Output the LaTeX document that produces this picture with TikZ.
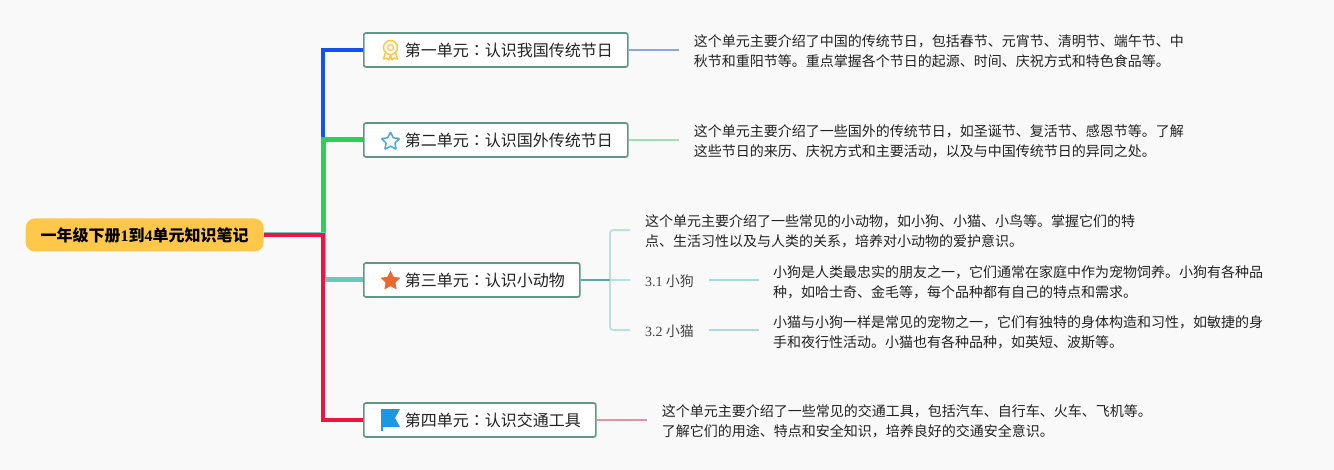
\documentclass[tikz,border=0pt]{standalone}
\usepackage{fontspec}
\usepackage{xcolor}
\usetikzlibrary{shapes.geometric, positioning}
\setmainfont{Noto Sans CJK SC}
\newfontfamily\cjkcolon{Noto Sans CJK TC}
\newfontfamily\numfont{Liberation Serif}
\newcommand{\ucolon}{{\cjkcolon ：}}
\definecolor{cBack}{RGB}{249,249,250}
\definecolor{cRoot}{RGB}{255,200,74}
\definecolor{cEdge}{RGB}{98,150,135}
\definecolor{cInk}{RGB}{34,34,34}
\definecolor{cBlue}{RGB}{24,78,246}
\definecolor{cGreen}{RGB}{44,208,84}
\definecolor{cTeal}{RGB}{106,200,182}
\definecolor{cRed}{RGB}{236,20,64}
\definecolor{cLeafBlue}{RGB}{140,166,220}
\definecolor{cLeafGreen}{RGB}{160,221,176}
\definecolor{cLeafRed}{RGB}{232,143,165}
\definecolor{cStarLine}{RGB}{74,168,220}
\definecolor{cStarFill}{RGB}{232,104,48}
\definecolor{cFlag}{RGB}{26,152,224}
\tikzset{
	rootbox/.style ={rectangle, rounded corners=9pt, fill=cRoot, inner xsep=15pt, minimum height=33pt, font=\fontsize{16pt}{20pt}\selectfont\bfseries, text=black},
	unitbox/.style ={rectangle, rounded corners=2pt, draw=cEdge, line width=1.6pt, fill=white, inner xsep=15pt, minimum height=34pt, font=\fontsize{16pt}{20pt}\selectfont, text=cInk},
	note/.style    ={inner sep=0pt, align=left, font=\fontsize{14pt}{20.3pt}\selectfont, text=cInk},
	sublabel/.style={inner sep=0pt, font=\fontsize{14pt}{20pt}\selectfont, text=cInk!85},
	trunk/.style   ={line width=4.5pt},
	leaf/.style    ={line width=1.8pt},
	iconstar/.style={star, star points=5, star point ratio=2.05, minimum size=21pt, inner sep=0pt, rounded corners=0.6pt},
}
\begin{document}
\begin{tikzpicture}[x=1pt, y=-1pt]
	\useasboundingbox[fill=cBack] (0,0) rectangle (1334,470);
	\node[rootbox, anchor=west] (root) at (25.5,235) {\raisebox{-1pt}{一年级下册{\numfont 1}到{\numfont 4}单元知识笔记}};
	\coordinate (fork) at (323,235);
	\node[unitbox, anchor=west] (u1) at (363,50) {\hspace*{26pt}\raisebox{-1pt}{第一单元\ucolon 认识我国传统节日}};
	\node[unitbox, anchor=west] (u2) at (363,140) {\hspace*{26pt}\raisebox{-1pt}{第二单元\ucolon 认识国外传统节日}};
	\node[unitbox, anchor=west] (u3) at (363,280) {\hspace*{26pt}\raisebox{-1pt}{第三单元\ucolon 认识小动物}};
	\node[unitbox, anchor=west] (u4) at (363,420) {\hspace*{26pt}\raisebox{-1pt}{第四单元\ucolon 认识交通工具}};
	% main branches
	\draw[trunk, cBlue] (root.east) -- (fork) |- (u1.west);
	\draw[trunk, cGreen, line width=5pt] (root.east) -- (fork) |- (u2.west);
	\draw[trunk, cTeal, line width=5pt] (root.east) -- (fork) |- (u3.west);
	\draw[trunk, cRed, line width=4pt] (root.east) -- (fork) |- (u4.west);
	% unit 1, 2, 4 notes
	\coordinate[right=50pt of u1.east] (e1);
	\coordinate[right=50pt of u2.east] (e2);
	\coordinate[right=50pt of u4.east] (e4);
	\node[note, right=15pt of e1, yshift=-1.5pt] (n1) {这个单元主要介绍了中国的传统节日，包括春节、元宵节、清明节、端午节、中\\秋节和重阳节等。重点掌握各个节日的起源、时间、庆祝方式和特色食品等。};
	\node[note, right=15pt of e2, yshift=-1.5pt] (n2) {这个单元主要介绍了一些国外的传统节日，如圣诞节、复活节、感恩节等。了解\\这些节日的来历、庆祝方式和主要活动，以及与中国传统节日的异同之处。};
	\node[note, right=15pt of e4, yshift=-1.5pt] (n4) {这个单元主要介绍了一些常见的交通工具，包括汽车、自行车、火车、飞机等。\\了解它们的用途、特点和安全知识，培养良好的交通安全意识。};
	\draw[leaf, cLeafBlue] (u1.east) -- (e1);
	\draw[leaf, cLeafGreen] (u2.east) -- (e2);
	\draw[leaf, cLeafRed] (u4.east) -- (e4);
	% unit 3 children
	\coordinate (bk) at (610,280);
	\coordinate (b0) at (630,230);
	\coordinate (b1) at (630,280);
	\coordinate (b2) at (630,330);
	\node[note, anchor=west] (n3) at (645,231) {这个单元主要介绍了一些常见的小动物，如小狗、小猫、小鸟等。掌握它们的特\\点、生活习性以及与人类的关系，培养对小动物的爱护意识。};
	\node[sublabel, anchor=west] (s1) at (645,281.5) {{\numfont 3.1} 小狗};
	\node[sublabel, anchor=west] (s2) at (645,331.5) {{\numfont 3.2} 小猫};
	\coordinate (s1a) at (709,280);
	\coordinate (s1b) at (759,280);
	\coordinate (s2a) at (709,330);
	\coordinate (s2b) at (759,330);
	\node[note, right=14pt of s1b, yshift=-2pt] (n5) {小狗是人类最忠实的朋友之一，它们通常在家庭中作为宠物饲养。小狗有各种品\\种，如哈士奇、金毛等，每个品种都有自己的特点和需求。};
	\node[note, right=14pt of s2b, yshift=-2pt] (n6) {小猫与小狗一样是常见的宠物之一，它们有独特的身体构造和习性，如敏捷的身\\手和夜行性活动。小猫也有各种品种，如英短、波斯等。};
	\draw[leaf, cTeal!50, rounded corners=3pt] (b0) -| (bk) |- (b2);
	\draw[leaf, cTeal!50] (bk) -- (b1);
	\draw[leaf, cTeal!85!black] (u3.east) -- (bk);
	\draw[leaf, cTeal!60] (s1a) -- (s1b);
	\draw[leaf, cTeal!60] (s2a) -- (s2b);
	% icons
	\node[circle, draw=cRoot, line width=1.5pt, minimum size=14pt, inner sep=0pt] (medal) at (390.5,47.5) {};
	\node[circle, draw=cRoot, line width=1.2pt, minimum size=6pt, inner sep=0pt] (medalc) at (medal) {};
	\draw[cRoot, line width=1.5pt, line join=round] (385.5,52.5) -- (383.5,59) -- (387,58) -- (389,60) -- (390.5,55) -- (392,60) -- (394,58) -- (397.5,59) -- (395.5,52.5);
	\node[iconstar, draw=cStarLine, line width=1.5pt, fill=white, minimum size=19pt] (star2) at (390.5,141.5) {};
	\node[iconstar, fill=cStarFill] (star3) at (390.5,281) {};
	\fill[cFlag, line join=round] (381,409) -- (400,409) -- (395,418) -- (400,427) -- (383,427) -- (383,431) -- (381,431) -- cycle;
\end{tikzpicture}
\end{document}
